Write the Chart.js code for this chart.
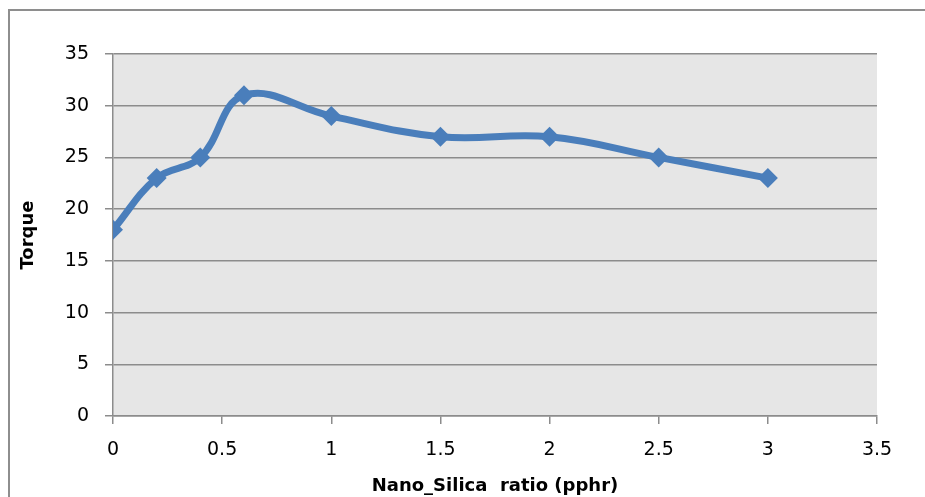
<!DOCTYPE html>
<html>
<head>
<meta charset="utf-8">
<script src="https://cdn.jsdelivr.net/npm/chart.js@4.4.1/dist/chart.umd.min.js"></script>
<style>
  html, body { margin: 0; padding: 0; background: #fff; overflow: hidden; }
  #wrap { position: relative; width: 925px; height: 497px; }
  #frame { position: absolute; left: 8px; top: 9px; width: 1000px; height: 1000px;
           border: 2px solid #8e8e8e; pointer-events: none; }
</style>
</head>
<body>
<div id="wrap">
  <canvas id="c" width="925" height="497"></canvas>
  <div id="frame"></div>
</div>
<script>
const ratio = [0, 0.2, 0.4, 0.6, 1, 1.5, 2, 2.5, 3];
const torque = [18, 23, 25, 31, 29, 27, 27, 25, 23];
const xTitle = 'Nano_Silica  ratio (pphr)';
const yTitle = 'Torque';

const plotBg = {
  id: 'plotBg',
  beforeDraw(chart) {
    const {ctx, chartArea: a} = chart;
    ctx.save();
    ctx.fillStyle = '#e6e6e6';
    ctx.fillRect(a.left, a.top, a.right - a.left, a.bottom - a.top);
    ctx.restore();
  }
};

new Chart(document.getElementById('c'), {
  type: 'line',
  data: {
    datasets: [{
      data: ratio.map((x, i) => ({x: x, y: torque[i]})),
      borderColor: '#4a7ebb',
      backgroundColor: '#4a7ebb',
      borderWidth: 7,
      tension: 0.4,
      pointStyle: 'rectRot',
      pointRadius: 10,
      pointBorderWidth: 0,
      pointHoverRadius: 10
    }]
  },
  options: {
    responsive: false,
    animation: false,
    events: [],
    layout: { padding: { top: 54, right: 48, left: 0, bottom: 0 } },
    plugins: { legend: { display: false }, tooltip: { enabled: false } },
    scales: {
      x: {
        type: 'linear',
        min: 0, max: 3.5,
        afterFit(s) { s.height = 81; },
        ticks: { stepSize: 0.5, padding: 15, color: '#000',
                 callback: v => String(v),
                 font: { family: 'DejaVu Sans', size: 19 }, maxRotation: 0 },
        grid: { drawOnChartArea: false, drawTicks: true, tickLength: 8, color: '#8c8c8c', lineWidth: 1.5 },
        border: { display: true, color: '#8c8c8c', width: 1.5 },
        title: { display: true, text: xTitle, color: '#000',
                 font: { family: 'DejaVu Sans', size: 18, weight: 'bold' },
                 padding: { top: 1, bottom: 0 } }
      },
      y: {
        min: 0, max: 35,
        afterFit(s) { s.width = 113; },
        ticks: { stepSize: 5, padding: 16, color: '#000',
                 font: { family: 'DejaVu Sans', size: 19 } },
        grid: { drawOnChartArea: true, drawTicks: true, tickLength: 8, color: '#8c8c8c', lineWidth: 1.5 },
        border: { display: true, color: '#8c8c8c', width: 1.5 },
        title: { display: true, text: yTitle, color: '#000',
                 font: { family: 'DejaVu Sans', size: 18, weight: 'bold' },
                 padding: { top: 18, bottom: 0 } }
      }
    }
  },
  plugins: [plotBg]
});
</script>
</body>
</html>
